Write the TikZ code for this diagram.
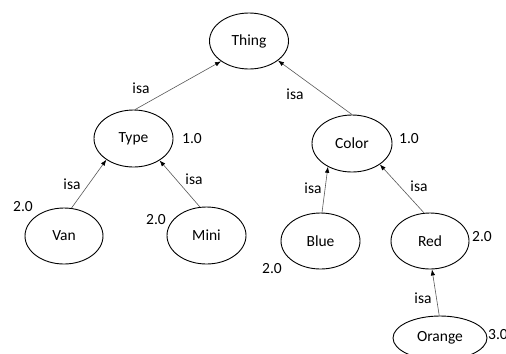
\documentclass[tikz,border=0pt]{standalone}
\usepackage{fontspec}
\setmainfont{Carlito}
\usetikzlibrary{arrows.meta,shapes.geometric}
\begin{document}
\begin{tikzpicture}[x=1bp,y=-1bp,
  concept/.style={ellipse, draw=black, line width=0.9bp, inner sep=0pt, minimum width=79bp, minimum height=56bp},
  lbl/.style={inner sep=0pt},
  isaedge/.style={draw=black!65, line width=0.6bp, -{Latex[length=6bp,width=4.5bp,black]}},
  font=\fontsize{15.5bp}{17bp}\selectfont]
\useasboundingbox (0,0) rectangle (506,353);
\clip (0,0) rectangle (506,353);
\fill[white] (0,0) rectangle (506,353);
\node[concept] (thing) at (249,41) {Thing};
\node[concept, minimum height=57bp] (type) at (133.5,138.5) {Type};
\node[concept, minimum width=80bp, minimum height=57bp] (color) at (352,143.5) {Color};
\node[concept, minimum width=78bp] (van) at (64,236) {Van};
\node[concept, minimum height=57bp] (mini) at (206.5,235.5) {Mini};
\node[concept] (blue) at (320.5,241) {Blue};
\node[concept, minimum width=78bp] (red) at (430,241) {Red};
\node[concept, minimum width=94bp, minimum height=44bp] (orange) at (440,338) {Orange};
\draw[isaedge] (type.87) -- (thing.216);
\draw[isaedge] (color.90) -- (thing.326);
\draw[isaedge] (van.75) -- (type.218);
\draw[isaedge] (mini.103) -- (type.320);
\draw[isaedge] (blue.87) -- (color.224);
\draw[isaedge] (red.102) -- (color.323);
\draw[isaedge] (orange.92) -- (red.274);
\node[lbl] (l1) at (141,88) {isa};
\node[lbl] (l2) at (295,94) {isa};
\node[lbl] (l3) at (72,184) {isa};
\node[lbl] (l4) at (194,179) {isa};
\node[lbl] (l5) at (313,188) {isa};
\node[lbl] (l6) at (419,186) {isa};
\node[lbl] (l7) at (423,298) {isa};
\node[lbl] (n1) at (192,139) {1.0};
\node[lbl] (n2) at (409,139) {1.0};
\node[lbl] (n3) at (23,207) {2.0};
\node[lbl] (n4) at (156,220) {2.0};
\node[lbl] (n5) at (272,269) {2.0};
\node[lbl] (n6) at (482,237) {2.0};
\node[lbl,anchor=west] (n7) at (488,335) {3.0};
\end{tikzpicture}
\end{document}
